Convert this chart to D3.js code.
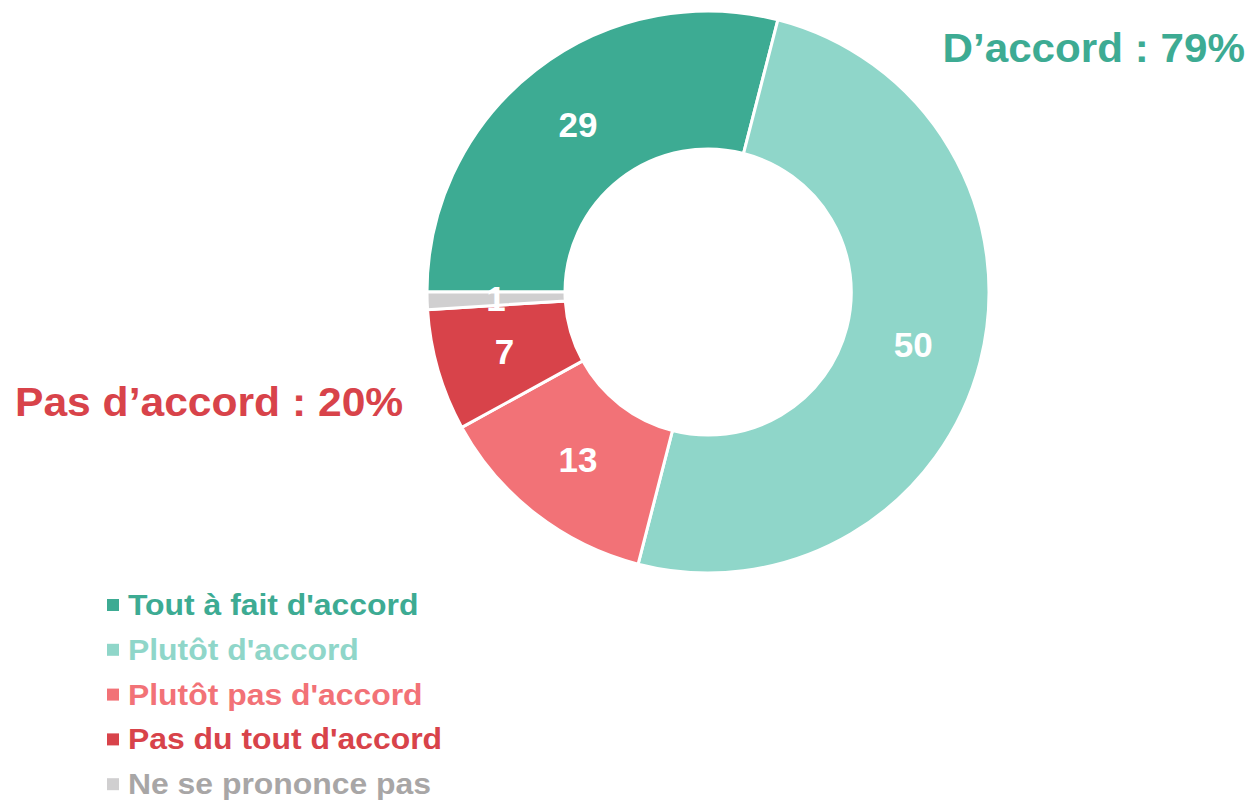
<!DOCTYPE html>
<html>
<head>
<meta charset="utf-8">
<script src="https://cdn.jsdelivr.net/npm/d3@7"></script>
<style>
  body { margin: 0; background: #fff; }
  text { font-family: "Liberation Sans", Arial, sans-serif; font-weight: bold; }
</style>
</head>
<body>
<div id="chart"></div>
<script>
// Data
const categories = ["Tout à fait d'accord", "Plutôt d'accord", "Plutôt pas d'accord", "Pas du tout d'accord", "Ne se prononce pas"];
const values = [29, 50, 13, 7, 1];
const sliceColors = ["#3dab93", "#8fd6c9", "#f27277", "#d8434a", "#d0cfd0"];
const legendColors = ["#3dab93", "#8fd6c9", "#f27277", "#d8434a", "#a8a6a6"];
const groupLabels = ["D’accord : 79%", "Pas d’accord : 20%"];

const width = 1253, height = 801;
const cx = 708, cy = 292;
const outerR = 281, innerR = 143;

const svg = d3.select("#chart").append("svg")
    .attr("width", width)
    .attr("height", height);

const pie = d3.pie()
    .sort(null)
    .startAngle(-Math.PI / 2)
    .endAngle(Math.PI * 1.5);

const arc = d3.arc().innerRadius(innerR).outerRadius(outerR);

const g = svg.append("g").attr("transform", "translate(" + cx + "," + cy + ")");

const arcs = pie(values);

g.selectAll("path")
    .data(arcs)
    .join("path")
    .attr("d", arc)
    .attr("fill", (d, i) => sliceColors[i])
    .attr("stroke", "#fff")
    .attr("stroke-width", 3);

// value labels
g.selectAll("text.val")
    .data(arcs)
    .join("text")
    .attr("class", "val")
    .attr("transform", d => "translate(" + arc.centroid(d) + ")")
    .attr("text-anchor", "middle")
    .attr("dy", "0.36em")
    .style("font-size", "35px")
    .attr("fill", "#fff")
    .text(d => d.data);

// group totals (slightly wider glyphs than Liberation)
svg.append("text")
    .attr("transform", "translate(1245,62) scale(1.055,1)")
    .attr("text-anchor", "end")
    .style("font-size", "40px")
    .attr("fill", "#3dab93")
    .text(groupLabels[0]);

svg.append("text")
    .attr("transform", "translate(15,416) scale(1.065,1)")
    .style("font-size", "40px")
    .attr("fill", "#d8434a")
    .text(groupLabels[1]);

// legend
const legend = svg.append("g").attr("transform", "translate(107,615)");
const item = legend.selectAll("g")
    .data(categories)
    .join("g")
    .attr("transform", (d, i) => "translate(0," + (i * 44.8) + ")");

item.append("rect")
    .attr("x", 0)
    .attr("y", -16)
    .attr("width", 12)
    .attr("height", 12)
    .attr("fill", (d, i) => sliceColors[i]);

item.append("text")
    .attr("transform", "translate(21,0) scale(1.1,1)")
    .style("font-size", "29px")
    .attr("fill", (d, i) => legendColors[i])
    .text(d => d);
</script>
</body>
</html>
